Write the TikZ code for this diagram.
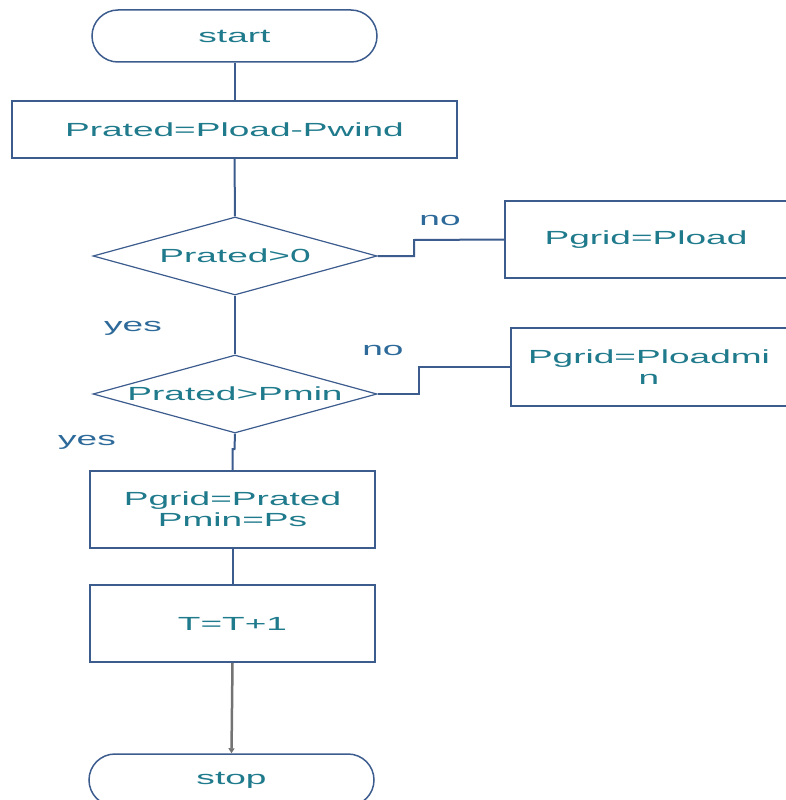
\documentclass[tikz,border=0pt]{standalone}
\usepackage{fontspec}
\setmainfont{Liberation Sans}[FakeStretch=1.95]
\usetikzlibrary{shapes.geometric,shapes.misc,arrows.meta}
\definecolor{edgeblue}{HTML}{3C5C8E}
\definecolor{txtteal}{HTML}{1F7A8C}
\definecolor{lblblue}{HTML}{2D6A9A}
\begin{document}
\begin{tikzpicture}[x=1pt,y=-1pt,
  every node/.style={font=\fontsize{19}{21}\selectfont, text=txtteal},
  term/.style={rounded rectangle, draw=edgeblue, line width=1.5pt, minimum width=285pt, minimum height=52pt, inner sep=0pt},
  proc/.style={rectangle, draw=edgeblue, line width=1.5pt, inner sep=0pt, align=center},
  dec/.style={diamond, draw=edgeblue, line width=1.2pt, inner sep=0pt, aspect=3.64, minimum width=284pt, minimum height=78pt},
  conn/.style={draw=edgeblue, line width=2pt},
  lbl/.style={text=lblblue}]
\useasboundingbox (0,0) rectangle (785,800);
\node[term] (start) at (234.5,36) {start};
\node[proc, minimum width=445pt, minimum height=57pt] (calc) at (234.5,129.5) {Prated=Pload-Pwind};
\node[dec] (d1) at (235,256) {Prated>0};
\node[proc, minimum width=282pt, minimum height=77pt] (pload) at (646,239.5) {Pgrid=Pload};
\node[dec] (d2) at (235,394) {Prated>Pmin};
\node[proc, minimum width=276pt, minimum height=78pt] (pmin) at (649,367) {Pgrid=Ploadmi\\n};
\node[proc, minimum width=285pt, minimum height=77pt] (prat) at (232.5,509.5) {Pgrid=Prated\\Pmin=Ps};
\node[proc, minimum width=285pt, minimum height=77pt] (tinc) at (232.5,623.5) {T=T+1};
\node[term] (stop) at (231.5,780) {stop};
\node[lbl] (no1) at (440,220) {no};
\node[lbl] (no2) at (383,350) {no};
\node[lbl] (yes1) at (133,328) {yes};
\node[lbl] (yes2) at (87,442) {yes};
\coordinate (j1) at (414,256);
\coordinate (j2) at (414,240);
\coordinate (k1) at (419,394);
\coordinate (k2) at (419,367);
\coordinate (m1) at (234.5,449);
\coordinate (m2) at (232.5,449);
\draw[conn] (start.south) -- (calc.north);
\draw[conn] (calc.south) -- (d1.north);
\draw[conn] (d1.south) -- (d2.north);
\draw[conn] (d1.east) -- (j1) -- (j2) -- (pload.west);
\draw[conn] (d2.east) -- (k1) -- (k2) -- (pmin.west);
\draw[conn] (d2.south) -- (m1) -- (m2) -- (prat.north);
\draw[conn] (prat.south) -- (tinc.north);
\draw[draw=gray!90!black, line width=2.5pt, -{Triangle[length=5pt,width=6pt]}] (tinc.south) -- (stop.north);
\end{tikzpicture}
\end{document}
